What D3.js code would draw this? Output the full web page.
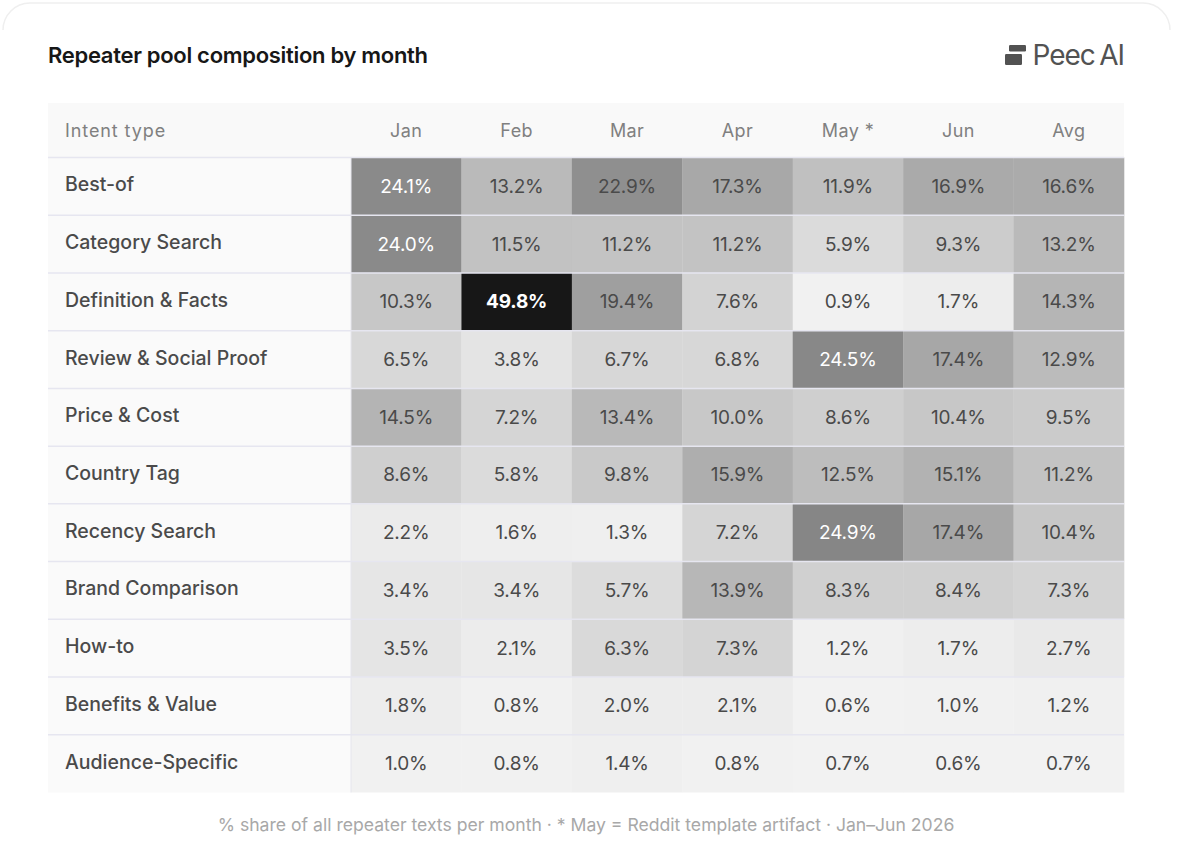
<!DOCTYPE html>
<html>
<head>
<meta charset="utf-8">
<script src="https://cdn.jsdelivr.net/npm/d3@7"></script>
<style>
  html, body { margin: 0; padding: 0; background: #fff; }
  text { font-family: Inter, "Noto Sans", sans-serif; }
</style>
</head>
<body>
<div id="chart"></div>
<script>
const intents = ['Best-of', 'Category Search', 'Definition & Facts', 'Review & Social Proof', 'Price & Cost',
    'Country Tag', 'Recency Search', 'Brand Comparison', 'How-to', 'Benefits & Value', 'Audience-Specific'];
const months = ['Jan', 'Feb', 'Mar', 'Apr', 'May *', 'Jun', 'Avg'];

const bestOf = [24.1, 13.2, 22.9, 17.3, 11.9, 16.9, 16.6];
const categorySearch = [24.0, 11.5, 11.2, 11.2, 5.9, 9.3, 13.2];
const definitionFacts = [10.3, 49.8, 19.4, 7.6, 0.9, 1.7, 14.3];
const reviewSocial = [6.5, 3.8, 6.7, 6.8, 24.5, 17.4, 12.9];
const priceCost = [14.5, 7.2, 13.4, 10.0, 8.6, 10.4, 9.5];
const countryTag = [8.6, 5.8, 9.8, 15.9, 12.5, 15.1, 11.2];
const recencySearch = [2.2, 1.6, 1.3, 7.2, 24.9, 17.4, 10.4];
const brandComparison = [3.4, 3.4, 5.7, 13.9, 8.3, 8.4, 7.3];
const howTo = [3.5, 2.1, 6.3, 7.3, 1.2, 1.7, 2.7];
const benefitsValue = [1.8, 0.8, 2.0, 2.1, 0.6, 1.0, 1.2];
const audienceSpecific = [1.0, 0.8, 1.4, 0.8, 0.7, 0.6, 0.7];

const table = [bestOf, categorySearch, definitionFacts, reviewSocial, priceCost, countryTag,
    recencySearch, brandComparison, howTo, benefitsValue, audienceSpecific];

const width = 1200;
const height = 854;
const tableLeft = 48, labelRight = 351, tableRight = 1124;
const tableTop = 103, headerBottom = 157.5, tableBottom = 792.5;

const svg = d3.select('#chart').append('svg')
    .attr('width', width)
    .attr('height', height)
    .style('display', 'block');

// Card outline, only the top edge shows
svg.append('path')
    .attr('d', 'M3,30 A27,27 0 0 1 30,3 H1143 A27,27 0 0 1 1170,30')
    .attr('fill', 'none')
    .attr('stroke', '#efefef')
    .attr('stroke-width', 1.5);

svg.append('text')
    .attr('x', 48)
    .attr('y', 62.5)
    .attr('font-size', 22)
    .attr('font-weight', 600)
    .attr('letter-spacing', -0.3)
    .attr('fill', '#171717')
    .text('Repeater pool composition by month');

// Logo
const logo = svg.append('g').attr('fill', '#525252');
logo.append('rect').attr('x', 1009).attr('y', 45).attr('width', 17).attr('height', 6.5).attr('rx', 1.2);
logo.append('rect').attr('x', 1005).attr('y', 54).attr('width', 17).attr('height', 11).attr('rx', 1.2);
svg.append('text')
    .attr('x', 1124)
    .attr('y', 64.5)
    .attr('text-anchor', 'end')
    .attr('font-size', 28)
    .attr('font-weight', 400)
    .attr('letter-spacing', -1.1)
    .attr('word-spacing', -2)
    .attr('fill', '#525252')
    .text('Peec AI');

const x = d3.scaleBand().domain(months).range([labelRight, tableRight]);
const y = d3.scaleBand().domain(intents).range([headerBottom, tableBottom]);
const shade = d3.scaleLinear().domain([0, 49.8]).range([245, 23]);
const grey = v => { const g = Math.round(shade(v)); return `rgb(${g},${g},${g})`; };

// Header and label column backgrounds
svg.append('rect')
    .attr('x', tableLeft).attr('y', tableTop)
    .attr('width', tableRight - tableLeft).attr('height', headerBottom - tableTop)
    .attr('fill', '#f9f9f9');
svg.append('rect')
    .attr('x', tableLeft).attr('y', headerBottom)
    .attr('width', labelRight - tableLeft).attr('height', tableBottom - headerBottom)
    .attr('fill', '#fafafa');

svg.append('text')
    .attr('x', 65)
    .attr('y', 137)
    .attr('font-size', 18)
    .attr('letter-spacing', 0.9)
    .attr('fill', '#808080')
    .text('Intent type');

svg.selectAll('.month')
    .data(months)
    .enter()
    .append('text')
    .attr('class', 'month')
    .attr('x', d => x(d) + x.bandwidth() / 2)
    .attr('y', 137)
    .attr('text-anchor', 'middle')
    .attr('font-size', 18)
    .attr('letter-spacing', 0.4)
    .attr('fill', '#808080')
    .text(d => d);

const rows = svg.selectAll('.row')
    .data(intents)
    .enter()
    .append('g')
    .attr('class', 'row')
    .attr('transform', d => `translate(0,${y(d)})`);

rows.selectAll('rect')
    .data((d, i) => table[i].map((v, j) => ({ v: v, month: months[j] })))
    .enter()
    .append('rect')
    .attr('x', d => x(d.month))
    .attr('width', x.bandwidth() + 0.3)
    .attr('height', y.bandwidth())
    .attr('fill', d => grey(d.v));

rows.selectAll('.value')
    .data((d, i) => table[i].map((v, j) => ({ v: v, month: months[j] })))
    .enter()
    .append('text')
    .attr('class', 'value')
    .attr('x', d => x(d.month) + x.bandwidth() / 2)
    .attr('y', y.bandwidth() / 2 + 6.5)
    .attr('text-anchor', 'middle')
    .attr('font-size', 19)
    .attr('font-weight', d => d.v > 40 ? 700 : 400)
    .attr('letter-spacing', -0.2)
    .attr('fill', d => d.v >= 24 ? '#ffffff' : '#4a4a4a')
    .text(d => d.v.toFixed(1) + '%');

rows.append('text')
    .attr('x', 65)
    .attr('y', y.bandwidth() / 2 + 5)
    .attr('font-size', 19.5)
    .attr('font-weight', 500)
    .attr('fill', '#4a4a4a')
    .text(d => d);

// Row separators
svg.selectAll('.sep')
    .data(intents)
    .enter()
    .append('line')
    .attr('class', 'sep')
    .attr('x1', tableLeft)
    .attr('x2', tableRight)
    .attr('y1', d => y(d))
    .attr('y2', d => y(d))
    .attr('stroke', '#e6e6f0')
    .attr('stroke-width', 1.5);

svg.append('line')
    .attr('x1', labelRight).attr('x2', labelRight)
    .attr('y1', headerBottom).attr('y2', tableBottom)
    .attr('stroke', '#e6e6ee')
    .attr('stroke-width', 1);

svg.append('text')
    .attr('x', 586)
    .attr('y', 830.5)
    .attr('text-anchor', 'middle')
    .attr('font-size', 17.6)
    .attr('fill', '#a8a8a8')
    .text('% share of all repeater texts per month · * May = Reddit template artifact · Jan–Jun 2026');
</script>
</body>
</html>
